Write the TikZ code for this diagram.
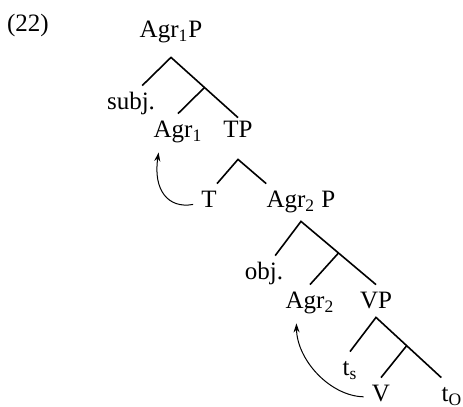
\documentclass[tikz,border=0pt]{standalone}
\usepackage{fontspec}
\setmainfont{Liberation Serif}
\usetikzlibrary{arrows.meta, calc}

\begin{document}
\begin{tikzpicture}[x=0.5pt, y=-0.5pt,
    lbl/.style={anchor=base, inner xsep=0pt, inner ysep=3pt, text height=9pt, text depth=4pt, font=\fontsize{12.5}{15}\selectfont},
    branch/.style={line width=0.8pt},
    move/.style={line width=0.5pt, -{Stealth[length=4.5pt,width=3pt]}, shorten <=4pt}]
    \useasboundingbox (0,0) rectangle (463,407);

    % example number
    \node[lbl] (ex) at (28,32) {(22)};

    % upper shell
    \node[lbl, text depth=6.5pt] (agrIP) at (171,38) {Agr\textsubscript{1}P};
    \node[lbl] (subj) at (131,110) {subj.};
    \node[lbl] (agrI) at (178,138) {Agr\textsubscript{1}};
    \node[lbl, text height=7pt, text depth=7.5pt] (tp) at (238,138) {TP};
    \node[lbl] (t) at (209,208) {T};
    \node[lbl, text depth=3.5pt] (agrIIP) at (301,208) {Agr\textsubscript{2} P};

    % lower shell
    \node[lbl] (obj) at (264,280) {obj.};
    \node[lbl] (agrII) at (310,309) {Agr\textsubscript{2}};
    \node[lbl, text depth=1pt] (vp) at (376,309) {VP};
    \node[lbl] (ts) at (350,376) {t\textsubscript{s}};
    \node[lbl] (v) at (381,402) {V};
    \node[lbl] (tO) at (452,402) {t\textsubscript{O}};

    % bar levels
    \coordinate (agrIbar) at ($(agrIP.south)!0.5!(tp.north)$);
    \coordinate (agrIIbar) at ($(agrIIP.south)!0.5!(vp.north)$);
    \coordinate (vbar) at ($(vp.south)!0.47!(tO.north west)$);

    % branches
    \draw[branch] (subj.60) -- (agrIP.south) -- (tp.north);
    \draw[branch] (agrIbar) -- (agrI.north);
    \draw[branch] (t.north east) -- (tp.south) -- (agrIIP.north west);
    \draw[branch] (obj.60) -- (agrIIP.south) -- (vp.north);
    \draw[branch] (agrIIbar) -- (agrII.north);
    \draw[branch] (ts.north) -- (vp.south) -- (tO.north west);
    \draw[branch] (vbar) -- (v.north);

    % head movement
    \draw[move] (t.west) .. controls (168,209) and (153,190) .. (agrI.225);
    \draw[move] (v.west) .. controls (330,396) and (297,360) .. (agrII.235);
\end{tikzpicture}
\end{document}
